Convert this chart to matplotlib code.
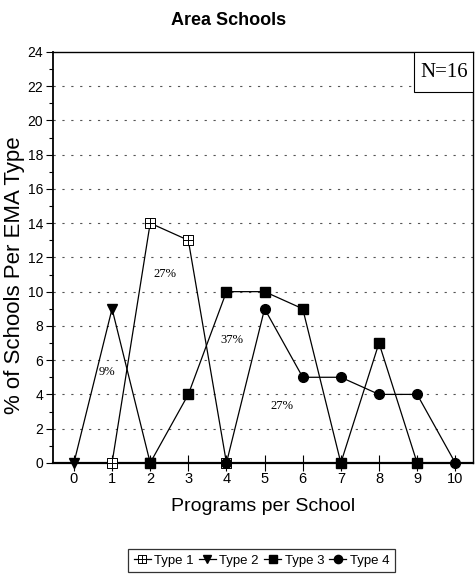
import matplotlib
matplotlib.use("Agg")
import matplotlib.pyplot as plt
from matplotlib.patches import Rectangle
from matplotlib.path import Path
from matplotlib.ticker import MultipleLocator

NARROW = ["Liberation Sans Narrow", "Liberation Sans", "DejaVu Sans"]
SERIF = ["Liberation Serif", "DejaVu Serif"]

# programs per school -> % of schools, by EMA type
type1_x = [1, 2, 3, 4]
type1_y = [0, 14, 13, 0]
type2_x = [0, 1, 2]
type2_y = [0, 9, 0]
type3_x = [2, 3, 4, 5, 6, 7, 8, 9]
type3_y = [0, 4, 10, 10, 9, 0, 7, 0]
type4_x = [4, 5, 6, 7, 8, 9, 10]
type4_y = [0, 9, 5, 5, 4, 4, 0]

share_labels = ["9%", "27%", "37%", "27%"]
share_pos = [(0.87, 5.3), (2.39, 11.05), (4.15, 7.2), (5.46, 3.3)]

x_ticks = list(range(0, 11))
y_ticks = list(range(0, 25, 2))

# open square with a cross through it
boxcross = Path(
    [(-1, -1), (1, -1), (1, 1), (-1, 1), (-1, -1),
     (0, -1), (0, 1), (-1, 0), (1, 0)],
    [Path.MOVETO, Path.LINETO, Path.LINETO, Path.LINETO, Path.CLOSEPOLY,
     Path.MOVETO, Path.LINETO, Path.MOVETO, Path.LINETO],
)

fig = plt.figure(figsize=(4.77, 5.83), dpi=100)
ax = fig.add_axes([0.111, 0.206, 0.881, 0.705])

kw = dict(color="black", lw=0.9, clip_on=False, zorder=3)
ax.plot(type1_x, type1_y, marker=boxcross, ms=6.5, mfc="white", mec="black",
        mew=0.7, label="Type 1", **kw)
ax.plot(type2_x, type2_y, marker="v", ms=7, label="Type 2", **kw)
ax.plot(type3_x, type3_y, marker="s", ms=6.5, label="Type 3", **kw)
ax.plot(type4_x, type4_y, marker="o", ms=7, label="Type 4", **kw)

for txt, (px, py) in zip(share_labels, share_pos):
    ax.text(px, py, txt, family=SERIF, fontsize=9, ha="center", va="center")

ax.set_xlim(-0.55, 10.47)
ax.set_ylim(0, 24)
ax.set_xticks(x_ticks)
ax.set_yticks(y_ticks)
ax.yaxis.set_minor_locator(MultipleLocator(1))
ax.tick_params(axis="x", direction="inout", length=11, width=0.8, labelsize=10.5, pad=1)
ax.tick_params(axis="y", which="major", direction="out", length=5, width=0.8,
               labelsize=10, pad=2)
ax.tick_params(axis="y", which="minor", direction="out", length=3, width=0.8)
for lab in ax.get_xticklabels() + ax.get_yticklabels():
    lab.set_family(NARROW)

for y in y_ticks[1:-1]:
    ax.axhline(y, color="#555555", lw=0.8, ls=(0, (2, 6)), zorder=1)

for side in ax.spines.values():
    side.set_linewidth(1.0)
ax.spines["bottom"].set_linewidth(1.6)
ax.spines["left"].set_linewidth(1.3)

# sample-size box in the upper right corner
ax.add_patch(Rectangle((0.86, 0.903), 0.14, 0.097, transform=ax.transAxes,
                       fc="white", ec="black", lw=0.8, zorder=4))
ax.text(0.93, 0.951, "N=16", transform=ax.transAxes, family=SERIF,
        fontsize=15, ha="center", va="center", zorder=5)

fig.text(0.48, 0.965, "Area Schools", family=NARROW, fontsize=13,
         fontweight="bold", ha="center", va="center")
ax.set_xlabel("Programs per School", family=NARROW, fontsize=14, labelpad=9)
ax.set_ylabel("% of Schools Per EMA Type", family=["Liberation Sans", "DejaVu Sans"],
              fontsize=16)
ax.yaxis.set_label_coords(-0.066, 0.457)

leg = fig.legend(loc="center", bbox_to_anchor=(0.548, 0.038), ncol=4,
                 frameon=True, fancybox=False, edgecolor="black",
                 prop=dict(family=NARROW, size=9.5), handlelength=1.3,
                 handletextpad=0.25, columnspacing=0.4, borderpad=0.4,
                 borderaxespad=0, markerscale=0.85)
leg.get_frame().set_linewidth(0.9)

fig.savefig("out.png", dpi=100)
